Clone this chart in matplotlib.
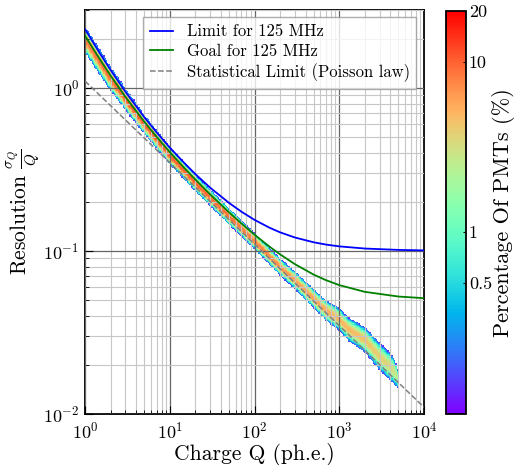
import numpy as np
import matplotlib
matplotlib.use('Agg')
import matplotlib.pyplot as plt
from matplotlib.colors import LogNorm
from matplotlib.ticker import FixedLocator, FixedFormatter, NullLocator

plt.rcParams['font.family'] = 'serif'
plt.rcParams['font.serif'] = ['cmr10']
plt.rcParams['mathtext.fontset'] = 'cm'
plt.rcParams['axes.formatter.use_mathtext'] = True

# Requirement curves
curve_q = [1, 1.5, 2, 3, 5, 7, 10, 15, 20, 30, 50, 70, 100, 150, 200, 300,
           500, 700, 1000, 2000, 5000, 10000]
limit_res = [2.290, 1.624, 1.288, 0.946, 0.661, 0.533, 0.430, 0.344, 0.296,
             0.244, 0.197, 0.174, 0.155, 0.1388, 0.130, 0.1208, 0.1129,
             0.1093, 0.1066, 0.1034, 0.1014, 0.1007]
goal_res = [2.086, 1.492, 1.190, 0.880, 0.620, 0.5005, 0.4037, 0.3205, 0.2741,
            0.2219, 0.1724, 0.1473, 0.1257, 0.1063, 0.0953, 0.0829, 0.0715,
            0.0661, 0.0617, 0.0561, 0.0525, 0.0513]
poisson_q = [1, 10000]
poisson_res = [1.10, 0.011]

band_q = [1, 2, 3, 5, 10, 20, 50, 100, 200, 300, 500, 700, 1000, 1300,
          2000, 3000, 4000, 4600, 5000]
band_center = [1.98, 1.14, 0.85, 0.60, 0.385, 0.262, 0.163, 0.115, 0.080,
               0.066, 0.051, 0.043, 0.038, 0.033, 0.0285, 0.0225, 0.0195,
               0.0178, 0.0158]
band_halfwidth = [0.065, 0.058, 0.052, 0.046, 0.042, 0.040, 0.040, 0.040, 0.042,
                  0.045, 0.048, 0.052, 0.058, 0.060, 0.066, 0.072, 0.075,
                  0.068, 0.045]
band_peak = [8, 9, 10, 10, 10, 10, 9, 8, 7, 6, 6, 5.5, 5, 5, 4.5, 4, 3.5, 3, 2]

cbar_ticks = [0.5, 1, 10, 20]
cbar_labels = ['0.5', '1', '10', '20']

fig = plt.figure(figsize=(5.14, 4.65), dpi=100)
ax = fig.add_axes([0.1654, 0.1097, 0.6595, 0.8688])
cax = fig.add_axes([0.8677, 0.1097, 0.0389, 0.8666])

xe = np.logspace(0, 4, 261)
ye = np.logspace(-2, np.log10(3), 331)
xc = np.sqrt(xe[:-1] * xe[1:])
yc = np.sqrt(ye[:-1] * ye[1:])
lq = np.log10(band_q)
lc = np.interp(np.log10(xc), lq, np.log10(band_center))
hw = np.interp(np.log10(xc), lq, band_halfwidth)
pk = np.interp(np.log10(xc), lq, band_peak)
sig = hw / 2.3
Z = pk[None, :] * np.exp(-0.5 * ((np.log10(yc)[:, None] - lc[None, :]) / sig[None, :]) ** 2)
Z[:, xc > band_q[-1]] = np.nan
Z[Z < 0.11] = np.nan
norm = LogNorm(vmin=0.084, vmax=20)
mesh = ax.pcolormesh(xe, ye, np.ma.masked_invalid(Z), cmap='rainbow', norm=norm,
                     zorder=1, shading='flat')

ax.plot(curve_q, limit_res, color='blue', lw=1.3, label='Limit for 125 MHz', zorder=3)
ax.plot(curve_q, goal_res, color='green', lw=1.3, label='Goal for 125 MHz', zorder=3)
ax.plot(poisson_q, poisson_res, color='grey', lw=1.1, ls='--',
        label='Statistical Limit (Poisson law)', zorder=3)

ax.set_xscale('log')
ax.set_yscale('log')
ax.set_xlim(1, 1e4)
ax.set_ylim(1e-2, 3)
ax.set_axisbelow(False)
ax.grid(True, which='major', color='0.4', lw=0.9, zorder=2.5)
ax.grid(True, which='minor', color='0.78', lw=0.8, zorder=2.5)
ax.tick_params(which='major', direction='in', length=6, width=0.8, labelsize=13)
ax.tick_params(which='minor', direction='in', length=3, width=0.6)
ax.tick_params(axis='x', which='major', pad=5)
ax.tick_params(axis='y', which='major', pad=4)
for s in ax.spines.values():
    s.set_linewidth(1.3)

ax.set_xlabel('Charge Q (ph.e.)', fontsize=15.5, labelpad=1)
ax.set_ylabel(r'Resolution $\frac{\sigma_Q}{Q}$', fontsize=15.5, labelpad=1)

leg = ax.legend(loc='upper right', fontsize=12, framealpha=0.8, fancybox=False,
                edgecolor='0.6', handlelength=1.4, labelspacing=0.25,
                borderaxespad=0.45)
leg.set_zorder(5)

cb = fig.colorbar(mesh, cax=cax)
cb.ax.yaxis.set_major_locator(FixedLocator(cbar_ticks))
cb.ax.yaxis.set_major_formatter(FixedFormatter(cbar_labels))
cb.ax.yaxis.set_minor_locator(NullLocator())
cb.ax.tick_params(labelsize=13, length=2, direction='in', pad=2)
cb.outline.set_linewidth(1.3)
cb.set_label('Percentage Of PMTs (%)', fontsize=16, labelpad=0)

fig.savefig('out.png', dpi=100)
